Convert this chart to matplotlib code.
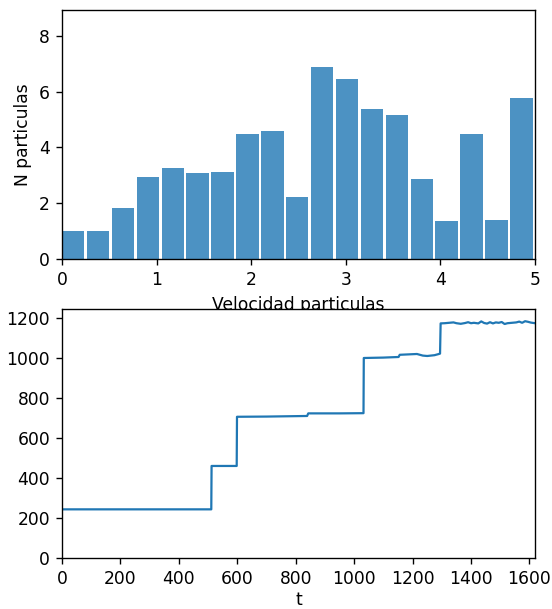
import numpy as np
import matplotlib
matplotlib.use("Agg")
import matplotlib.pyplot as plt

# histogram of particle speeds (19 bins between 0 and 5)
bin_edges = np.linspace(0, 5, 20)
counts = [1.0, 1.0, 1.83, 2.93, 3.27, 3.07, 3.11, 4.47, 4.59, 2.22,
          6.87, 6.44, 5.39, 5.16, 2.88, 1.35, 4.47, 1.39, 5.78]

# energy vs time
t_vals = [0, 511, 512, 598, 599, 700, 839, 843, 950, 1032, 1033, 1100, 1152,
          1156, 1215, 1235, 1250, 1275, 1290, 1294, 1296, 1310, 1325, 1340,
          1350, 1365, 1380, 1390, 1400, 1410, 1425, 1435, 1445, 1455, 1465,
          1475, 1485, 1495, 1505, 1515, 1525, 1540, 1555, 1565, 1575, 1585,
          1595, 1605, 1619]
e_vals = [245, 245, 462, 462, 708, 709, 712, 725, 725, 726, 1002, 1004, 1007,
          1018, 1022, 1014, 1012, 1016, 1022, 1024, 1175, 1176, 1178, 1180,
          1176, 1173, 1177, 1181, 1176, 1178, 1175, 1185, 1177, 1174, 1181,
          1175, 1180, 1178, 1182, 1172, 1176, 1178, 1180, 1184, 1178, 1186,
          1183, 1179, 1176]

# the reference looks like a default figure scaled up ~1.23x
dpi = 123
fig = plt.figure(figsize=(552 / dpi, 609 / dpi), dpi=dpi)

ax1 = fig.add_axes([0.1123, 0.5747, 0.8569, 0.4089])
bw = bin_edges[1] - bin_edges[0]
ax1.bar(bin_edges[:-1], counts, width=0.9 * bw, align='edge', color='C0', alpha=0.8)
ax1.set_xlim(0, 5)
ax1.set_ylim(0, 8.93)
ax1.set_xlabel('Velocidad particulas')
ax1.set_ylabel('N particulas')

ax2 = fig.add_axes([0.1123, 0.0832, 0.8569, 0.4094])
ax2.plot(t_vals, e_vals, color='C0', lw=1.3)
ax2.set_xlim(0, 1619)
ax2.set_ylim(0, 1247)
ax2.set_xlabel('t', labelpad=1.5)

fig.savefig('out.png', dpi=dpi)
